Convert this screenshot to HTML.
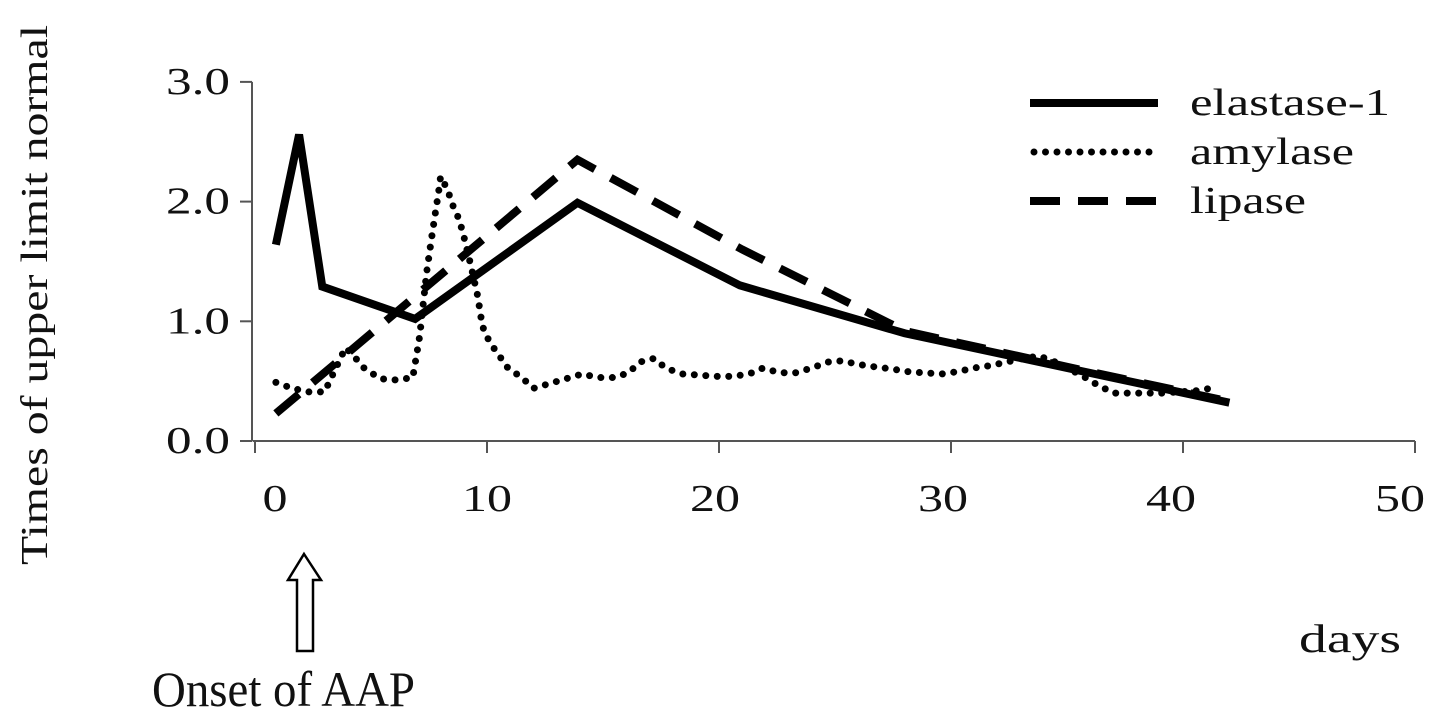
<!DOCTYPE html>
<html><head><meta charset="utf-8"><style>
html,body{margin:0;padding:0;background:#fff;}
svg{display:block;}
text{font-family:"Liberation Serif",serif;fill:#111;}
</style></head><body>
<svg id="chart" width="1441" height="718" viewBox="0 0 1441 718">
<g id="axes"></g>
<g id="series"></g>
<g>
  <line x1="1030" y1="103" x2="1158" y2="103" stroke="#000" stroke-width="8"/>
  <text x="1190" y="115" font-size="38" textLength="200" lengthAdjust="spacingAndGlyphs">elastase-1</text>
  <line x1="1034" y1="152" x2="1158" y2="152" stroke="#000" stroke-width="7" stroke-dasharray="0 11.5" stroke-linecap="round"/>
  <text x="1190" y="164" font-size="38" textLength="164" lengthAdjust="spacingAndGlyphs">amylase</text>
  <line x1="1030" y1="201" x2="1158" y2="201" stroke="#000" stroke-width="8" stroke-dasharray="30 18"/>
  <text x="1190" y="213" font-size="38" textLength="116" lengthAdjust="spacingAndGlyphs">lipase</text>
</g>
<text transform="translate(47,295) rotate(-90)" text-anchor="middle" font-size="38" textLength="540" lengthAdjust="spacingAndGlyphs">Times of upper limit normal</text>
<text x="1299" y="652" font-size="40" textLength="102" lengthAdjust="spacingAndGlyphs">days</text>
<polygon points="304,554 321,580 313,580 313,651 297,651 297,580 288,580" fill="#fff" stroke="#000" stroke-width="2.5"/>
<text x="152" y="706" font-size="50" textLength="263" lengthAdjust="spacingAndGlyphs">Onset of AAP</text>
</svg>
<script>
const xTicks=[0,10,20,30,40,50];
const xTickLabels=["0","10","20","30","40","50"];
const yTicks=[0,1,2,3];
const yTickLabels=["0.0","1.0","2.0","3.0"];
const elastaseDays=[0.9,1.9,2.9,6.9,13.9,20.9,28,35,42];
const elastaseVals=[1.64,2.56,1.29,1.02,1.99,1.30,0.90,0.61,0.32];
const lipaseDays=[0.9,13.9,21,28,35,42];
const lipaseVals=[0.23,2.35,1.60,0.92,0.62,0.33];
const amylaseDays=[0.9,1.6,2.3,3.0,3.9,4.3,4.7,5.4,6.1,6.8,7.0,7.1,7.4,7.6,7.8,7.9,8.0,8.3,8.5,8.8,9.0,9.3,9.6,9.8,10.1,10.5,10.9,11.5,12.0,12.7,13.4,14.1,14.8,15.5,16.1,16.6,17.2,17.7,18.4,19.2,19.8,20.6,21.3,21.9,22.6,23.3,24.0,24.7,25.3,26.0,26.7,27.5,28.1,28.8,29.6,30.3,31.0,31.7,32.4,33.1,33.8,34.5,35.1,35.7,36.3,37.0,37.7,38.4,39.1,39.8,40.6,41.2];
const amylaseVals=[0.49,0.44,0.41,0.41,0.78,0.70,0.61,0.52,0.51,0.53,0.76,0.88,1.41,1.68,1.94,2.06,2.21,2.10,1.98,1.85,1.71,1.47,1.21,0.96,0.83,0.72,0.61,0.53,0.44,0.48,0.52,0.56,0.53,0.53,0.57,0.66,0.69,0.61,0.56,0.55,0.54,0.54,0.56,0.61,0.57,0.57,0.61,0.66,0.67,0.64,0.62,0.60,0.58,0.57,0.56,0.58,0.61,0.63,0.66,0.69,0.71,0.66,0.60,0.54,0.47,0.40,0.40,0.40,0.40,0.41,0.42,0.44];

const NS="http://www.w3.org/2000/svg";
const X=v=>255+23.2*v;
const Y=v=>441-119.7*v;
const axes=document.getElementById('axes');
const series=document.getElementById('series');
function mk(tag,attrs,parent){const e=document.createElementNS(NS,tag);for(const k in attrs)e.setAttribute(k,attrs[k]);parent.appendChild(e);return e;}

let e=mk('line',{x1:X(-0.1),y1:Y(0),x2:X(50),y2:Y(0),stroke:'#555','stroke-width':2},axes);


e=mk('line',{x1:252,y1:Y(0),x2:252,y2:Y(3),stroke:'#555','stroke-width':2},axes);


const labelShift=[20,0,-4,-8,-12,-15];
xTicks.forEach((t,i)=>{
  const l=mk('line',{x1:X(t),y1:Y(0),x2:X(t),y2:Y(0)+12,stroke:'#555','stroke-width':2},axes);
  
  
  const s=xTickLabels[i];
  const tx=mk('text',{x:X(t)+labelShift[i],y:511,'text-anchor':'middle','font-size':38,textLength:s.length*25,lengthAdjust:'spacingAndGlyphs'},axes);
  tx.textContent=s;
  
  
});
yTicks.forEach((t,i)=>{
  const l=mk('line',{x1:240,y1:Y(t),x2:252,y2:Y(t),stroke:'#555','stroke-width':2},axes);
  
  
  const tx=mk('text',{x:230,y:Y(t)+12,'text-anchor':'end','font-size':38,textLength:64,lengthAdjust:'spacingAndGlyphs'},axes);
  tx.textContent=yTickLabels[i];
  
  
});
function pts(d,v){return d.map((x,i)=>X(x)+','+Y(v[i])).join(' ');}
e=mk('polyline',{points:pts(amylaseDays,amylaseVals),fill:'none',stroke:'#000','stroke-width':7,'stroke-dasharray':'0 11.5','stroke-linecap':'round','stroke-linejoin':'round'},series);


e=mk('polyline',{points:pts(lipaseDays,lipaseVals),fill:'none',stroke:'#000','stroke-width':8,'stroke-dasharray':'30 18'},series);


e=mk('polyline',{points:pts(elastaseDays,elastaseVals),fill:'none',stroke:'#000','stroke-width':8,'stroke-linejoin':'miter'},series);


</script>
</body></html>
